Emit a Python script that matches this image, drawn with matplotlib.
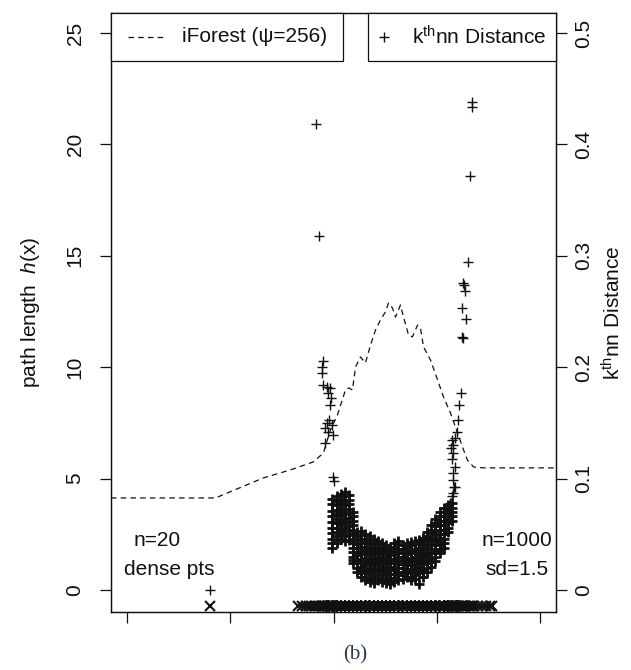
import matplotlib
matplotlib.use("Agg")
import matplotlib.pyplot as plt
from matplotlib.patches import Rectangle
from matplotlib.lines import Line2D

plt.rcParams['font.family'] = ['Liberation Sans', 'DejaVu Sans']
plt.rcParams['mathtext.fontset'] = 'custom'
plt.rcParams['mathtext.rm'] = 'Liberation Sans'
plt.rcParams['mathtext.it'] = 'Liberation Sans:italic'
plt.rcParams['lines.scale_dashes'] = False

# ---------------- data ----------------
# iForest path length curve (left axis)
line_x = [-0.8, 4.27, 6.60, 7.91, 9.03, 9.51, 9.85, 10.19, 10.58, 10.73, 10.92, 11.07,
          11.31, 11.55, 11.80, 12.04, 12.28, 12.52, 12.67, 12.86, 13.01, 13.25, 13.40,
          13.64, 13.83, 14.08, 14.22, 14.37, 14.71, 15.05, 15.34, 15.68, 16.02, 16.26,
          16.50, 16.80, 17.28, 20.8]
line_h = [4.13, 4.13, 5.03, 5.39, 5.75, 6.15, 7.18, 7.85, 8.98, 9.07, 8.98, 10.01,
          10.46, 10.19, 11.00, 11.67, 12.12, 12.48, 12.88, 12.66, 12.25, 12.79, 12.25,
          11.45, 11.36, 11.89, 11.76, 10.91, 10.32, 9.43, 8.66, 7.94, 7.05, 6.42,
          5.83, 5.52, 5.48, 5.48]

# dense points (n=20, all at the same location)
dense_x = [4.0]
dense_d = [0.0]

# kth-nn distance: sparse points (outliers and arms)
sparse_x = [9.15, 9.30, 9.49, 9.44, 9.44, 9.49, 9.69, 9.83, 9.73, 9.88, 9.83, 9.78,
            9.69, 9.93, 9.59, 9.73, 9.98, 9.59, 9.98, 10.02,
            16.71, 16.71, 16.61, 16.51, 16.27, 16.32, 16.37, 16.22, 16.42, 16.22, 16.27,
            16.17, 16.08, 16.03, 15.98, 15.88, 15.74, 15.79, 15.69, 15.79, 15.74, 15.88,
            15.79, 15.79, 15.84, 15.88, 15.79, 15.74, 15.64]
sparse_d = [0.418, 0.318, 0.206, 0.200, 0.195, 0.184, 0.182, 0.181, 0.177, 0.172, 0.166, 0.153,
            0.150, 0.148, 0.145, 0.142, 0.139, 0.132, 0.101, 0.098,
            0.438, 0.434, 0.372, 0.294, 0.276, 0.274, 0.268, 0.253, 0.243, 0.227, 0.226,
            0.177, 0.166, 0.153, 0.142, 0.136, 0.135, 0.130, 0.127, 0.123, 0.118, 0.110,
            0.105, 0.099, 0.092, 0.092, 0.087, 0.084, 0.078]

# kth-nn distance: dense U-shaped cloud, read column by column
cloud_cols_x = [9.95, 10.15, 10.35, 10.55, 10.75, 10.95, 11.15, 11.35, 11.55, 11.75,
                11.95, 12.15, 12.35, 12.55, 12.75, 12.95, 13.15, 13.35, 13.55, 13.75,
                13.95, 14.15, 14.35, 14.55, 14.75, 14.95, 15.15, 15.35, 15.55, 15.75]
cloud_cols_d = [
    [0.082, 0.077, 0.071, 0.066, 0.061, 0.056, 0.051, 0.046, 0.042, 0.038],
    [0.084, 0.080, 0.076, 0.072, 0.068, 0.064, 0.060, 0.056, 0.052, 0.048, 0.045, 0.042],
    [0.086, 0.082, 0.078, 0.074, 0.070, 0.066, 0.062, 0.058, 0.054, 0.050, 0.046],
    [0.088, 0.084, 0.080, 0.076, 0.072, 0.068, 0.064, 0.060, 0.056, 0.052, 0.048, 0.044],
    [0.085, 0.081, 0.077, 0.073, 0.069, 0.065, 0.061, 0.057, 0.053, 0.049, 0.045],
    [0.070, 0.066, 0.062, 0.058, 0.054, 0.050, 0.046, 0.042, 0.038, 0.034, 0.030, 0.027, 0.024],
    [0.052, 0.048, 0.045, 0.041, 0.038, 0.034, 0.031, 0.027, 0.024, 0.020, 0.016],
    [0.053, 0.049, 0.046, 0.042, 0.039, 0.035, 0.032, 0.028, 0.025, 0.021, 0.018, 0.015, 0.012],
    [0.050, 0.046, 0.043, 0.039, 0.036, 0.032, 0.029, 0.025, 0.022, 0.019, 0.016, 0.012, 0.009],
    [0.048, 0.045, 0.041, 0.038, 0.034, 0.031, 0.027, 0.024, 0.020, 0.017, 0.014, 0.010, 0.007],
    [0.046, 0.043, 0.039, 0.036, 0.032, 0.029, 0.025, 0.022, 0.019, 0.016, 0.012, 0.009, 0.006],
    [0.044, 0.041, 0.037, 0.034, 0.030, 0.027, 0.023, 0.020, 0.017, 0.013, 0.009],
    [0.042, 0.039, 0.035, 0.032, 0.028, 0.025, 0.021, 0.018, 0.014, 0.011, 0.007],
    [0.040, 0.037, 0.033, 0.030, 0.026, 0.023, 0.019, 0.016, 0.013, 0.009, 0.006],
    [0.038, 0.035, 0.031, 0.028, 0.024, 0.021, 0.018, 0.014, 0.011, 0.008, 0.005],
    [0.042, 0.039, 0.035, 0.032, 0.028, 0.025, 0.021, 0.018, 0.014, 0.011, 0.007],
    [0.044, 0.041, 0.037, 0.034, 0.030, 0.027, 0.023, 0.020, 0.016, 0.013, 0.009],
    [0.040, 0.037, 0.033, 0.030, 0.026, 0.023, 0.020, 0.016, 0.013, 0.010],
    [0.042, 0.039, 0.035, 0.032, 0.028, 0.025, 0.022, 0.018, 0.015, 0.012],
    [0.043, 0.040, 0.036, 0.033, 0.029, 0.026, 0.022, 0.019, 0.016, 0.012, 0.009],
    [0.044, 0.041, 0.037, 0.034, 0.030, 0.027, 0.023, 0.020, 0.017, 0.013, 0.010],
    [0.045, 0.042, 0.038, 0.035, 0.031, 0.028, 0.025, 0.021, 0.018, 0.015, 0.005],
    [0.047, 0.044, 0.040, 0.037, 0.033, 0.030, 0.026, 0.023, 0.019, 0.016, 0.012],
    [0.052, 0.048, 0.045, 0.041, 0.038, 0.034, 0.031, 0.027, 0.024, 0.020, 0.016],
    [0.058, 0.054, 0.051, 0.047, 0.044, 0.040, 0.037, 0.033, 0.029, 0.025, 0.021],
    [0.064, 0.060, 0.057, 0.053, 0.049, 0.045, 0.041, 0.037, 0.034, 0.030, 0.026],
    [0.070, 0.066, 0.062, 0.058, 0.054, 0.050, 0.047, 0.043, 0.040, 0.036, 0.033],
    [0.074, 0.070, 0.066, 0.062, 0.058, 0.054, 0.050, 0.046, 0.042, 0.038],
    [0.076, 0.072, 0.068, 0.064, 0.060, 0.056, 0.052],
    [0.078, 0.074, 0.070, 0.066, 0.062],
]

# far normal points (beyond the distance axis) shown only on the rug
rug_extra_x = [8.28, 8.47, 8.67, 8.81, 8.96, 9.10, 16.80, 17.00, 17.19, 17.39, 17.58, 17.68]

left_ticks = [0, 5, 10, 15, 20, 25]
right_ticks = [0, 0.1, 0.2, 0.3, 0.4, 0.5]
right_labels = ["0", "0.1", "0.2", "0.3", "0.4", "0.5"]
x_ticks = [0, 5, 10, 15, 20]

# ---------------- figure ----------------
fig = plt.figure(figsize=(6.31, 6.70), dpi=100)
ax = fig.add_axes([111 / 631, 58 / 670, 445 / 631, 599 / 670])
ax.set_xlim(-0.8, 20.8)
ax.set_ylim(-0.99, 25.9)
ax2 = ax.twinx()
ax2.set_ylim(-0.99 / 50, 25.9 / 50)

ink = '#111111'
fs = 15

# iForest curve
ax.plot(line_x, line_h, color=ink, lw=0.9, dashes=(4.0, 3.0), zorder=3)

# kNN points
cloud_x, cloud_d = [], []
for cx, ds in zip(cloud_cols_x, cloud_cols_d):
    for d in ds:
        cloud_x.append(cx)
        cloud_d.append(d)
knn_x = sparse_x + cloud_x
knn_d = sparse_d + cloud_d
mk = dict(marker='+', linestyle='none', color=ink, markersize=7.2, markeredgewidth=1.0)
ax2.plot(sparse_x, sparse_d, **mk)
ax2.plot(cloud_x, cloud_d, marker='+', linestyle='none', color=ink,
         markersize=7.6, markeredgewidth=2.0)
ax2.plot(dense_x, dense_d, **mk)

# rug of data points
rug_x = dense_x + knn_x + rug_extra_x
ax.plot(rug_x, [-0.74] * len(rug_x), marker='x', linestyle='none', color=ink,
        markersize=6.8, markeredgewidth=1.5, clip_on=False)

# annotations
ax.text(1.45, 2.24, 'n=20', fontsize=fs, ha='center', va='center', color=ink)
ax.text(2.03, 0.90, 'dense pts', fontsize=fs, ha='center', va='center', color=ink)
ax.text(18.9, 2.24, 'n=1000', fontsize=fs, ha='center', va='center', color=ink)
ax.text(18.9, 0.90, 'sd=1.5', fontsize=fs, ha='center', va='center', color=ink)

# axes styling
for a in (ax, ax2):
    for s in a.spines.values():
        s.set_linewidth(0.9)
        s.set_color(ink)
ax.set_xticks(x_ticks)
ax.set_xticklabels([])
ax.set_yticks(left_ticks)
ax.set_yticklabels([str(t) for t in left_ticks])
ax2.set_yticks(right_ticks)
ax2.set_yticklabels(right_labels)
ax.tick_params(axis='both', direction='out', length=8, width=0.9, color=ink)
ax.tick_params(axis='y', labelsize=fs, labelrotation=90, pad=11, labelcolor=ink)
ax2.tick_params(axis='y', direction='out', length=8, width=0.9, color=ink,
                labelsize=fs, labelrotation=90, pad=5, labelcolor=ink)
for lab in ax.get_yticklabels():
    lab.set_va('center')
for lab in ax2.get_yticklabels():
    lab.set_va('center')

ax.set_ylabel(r'path length  $h(\mathrm{x})$', fontsize=fs, color=ink, labelpad=17)
ax2.set_ylabel(r'k$^{\mathrm{th}}$nn Distance', fontsize=fs, color=ink, labelpad=6)

# legends (drawn as boxes at the top)
box_y0 = 1 - 48 / 599
ax2.add_patch(Rectangle((0, box_y0), 232 / 445, 48 / 599, transform=ax2.transAxes,
                        facecolor='white', edgecolor=ink, lw=0.9, zorder=10, clip_on=False))
ax2.add_patch(Rectangle((257 / 445, box_y0), 188 / 445, 48 / 599, transform=ax2.transAxes,
                        facecolor='white', edgecolor=ink, lw=0.9, zorder=10, clip_on=False))
ly = 1 - 24 / 599
ax2.add_line(Line2D([17 / 445, 54 / 445], [ly, ly], transform=ax2.transAxes, color=ink,
                    lw=0.9, dashes=(4.0, 3.0), zorder=11))
ax2.text(71 / 445, ly, 'iForest (ψ=256)', transform=ax2.transAxes, fontsize=fs,
         ha='left', va='center', color=ink, zorder=11)
ax2.add_line(Line2D([273 / 445], [ly], transform=ax2.transAxes, marker='+', color=ink,
                    markersize=7.2, markeredgewidth=1.0, linestyle='none', zorder=11))
ax2.text(301 / 445, ly, r'k$^{\mathrm{th}}$nn Distance', transform=ax2.transAxes,
         fontsize=fs, ha='left', va='center', color=ink, zorder=11)

fig.text(355 / 631, 1 - 655 / 670, '(b)', family='Liberation Serif', fontsize=15,
         ha='center', va='center', color='#2b3650')

fig.savefig('out.png', dpi=100)
